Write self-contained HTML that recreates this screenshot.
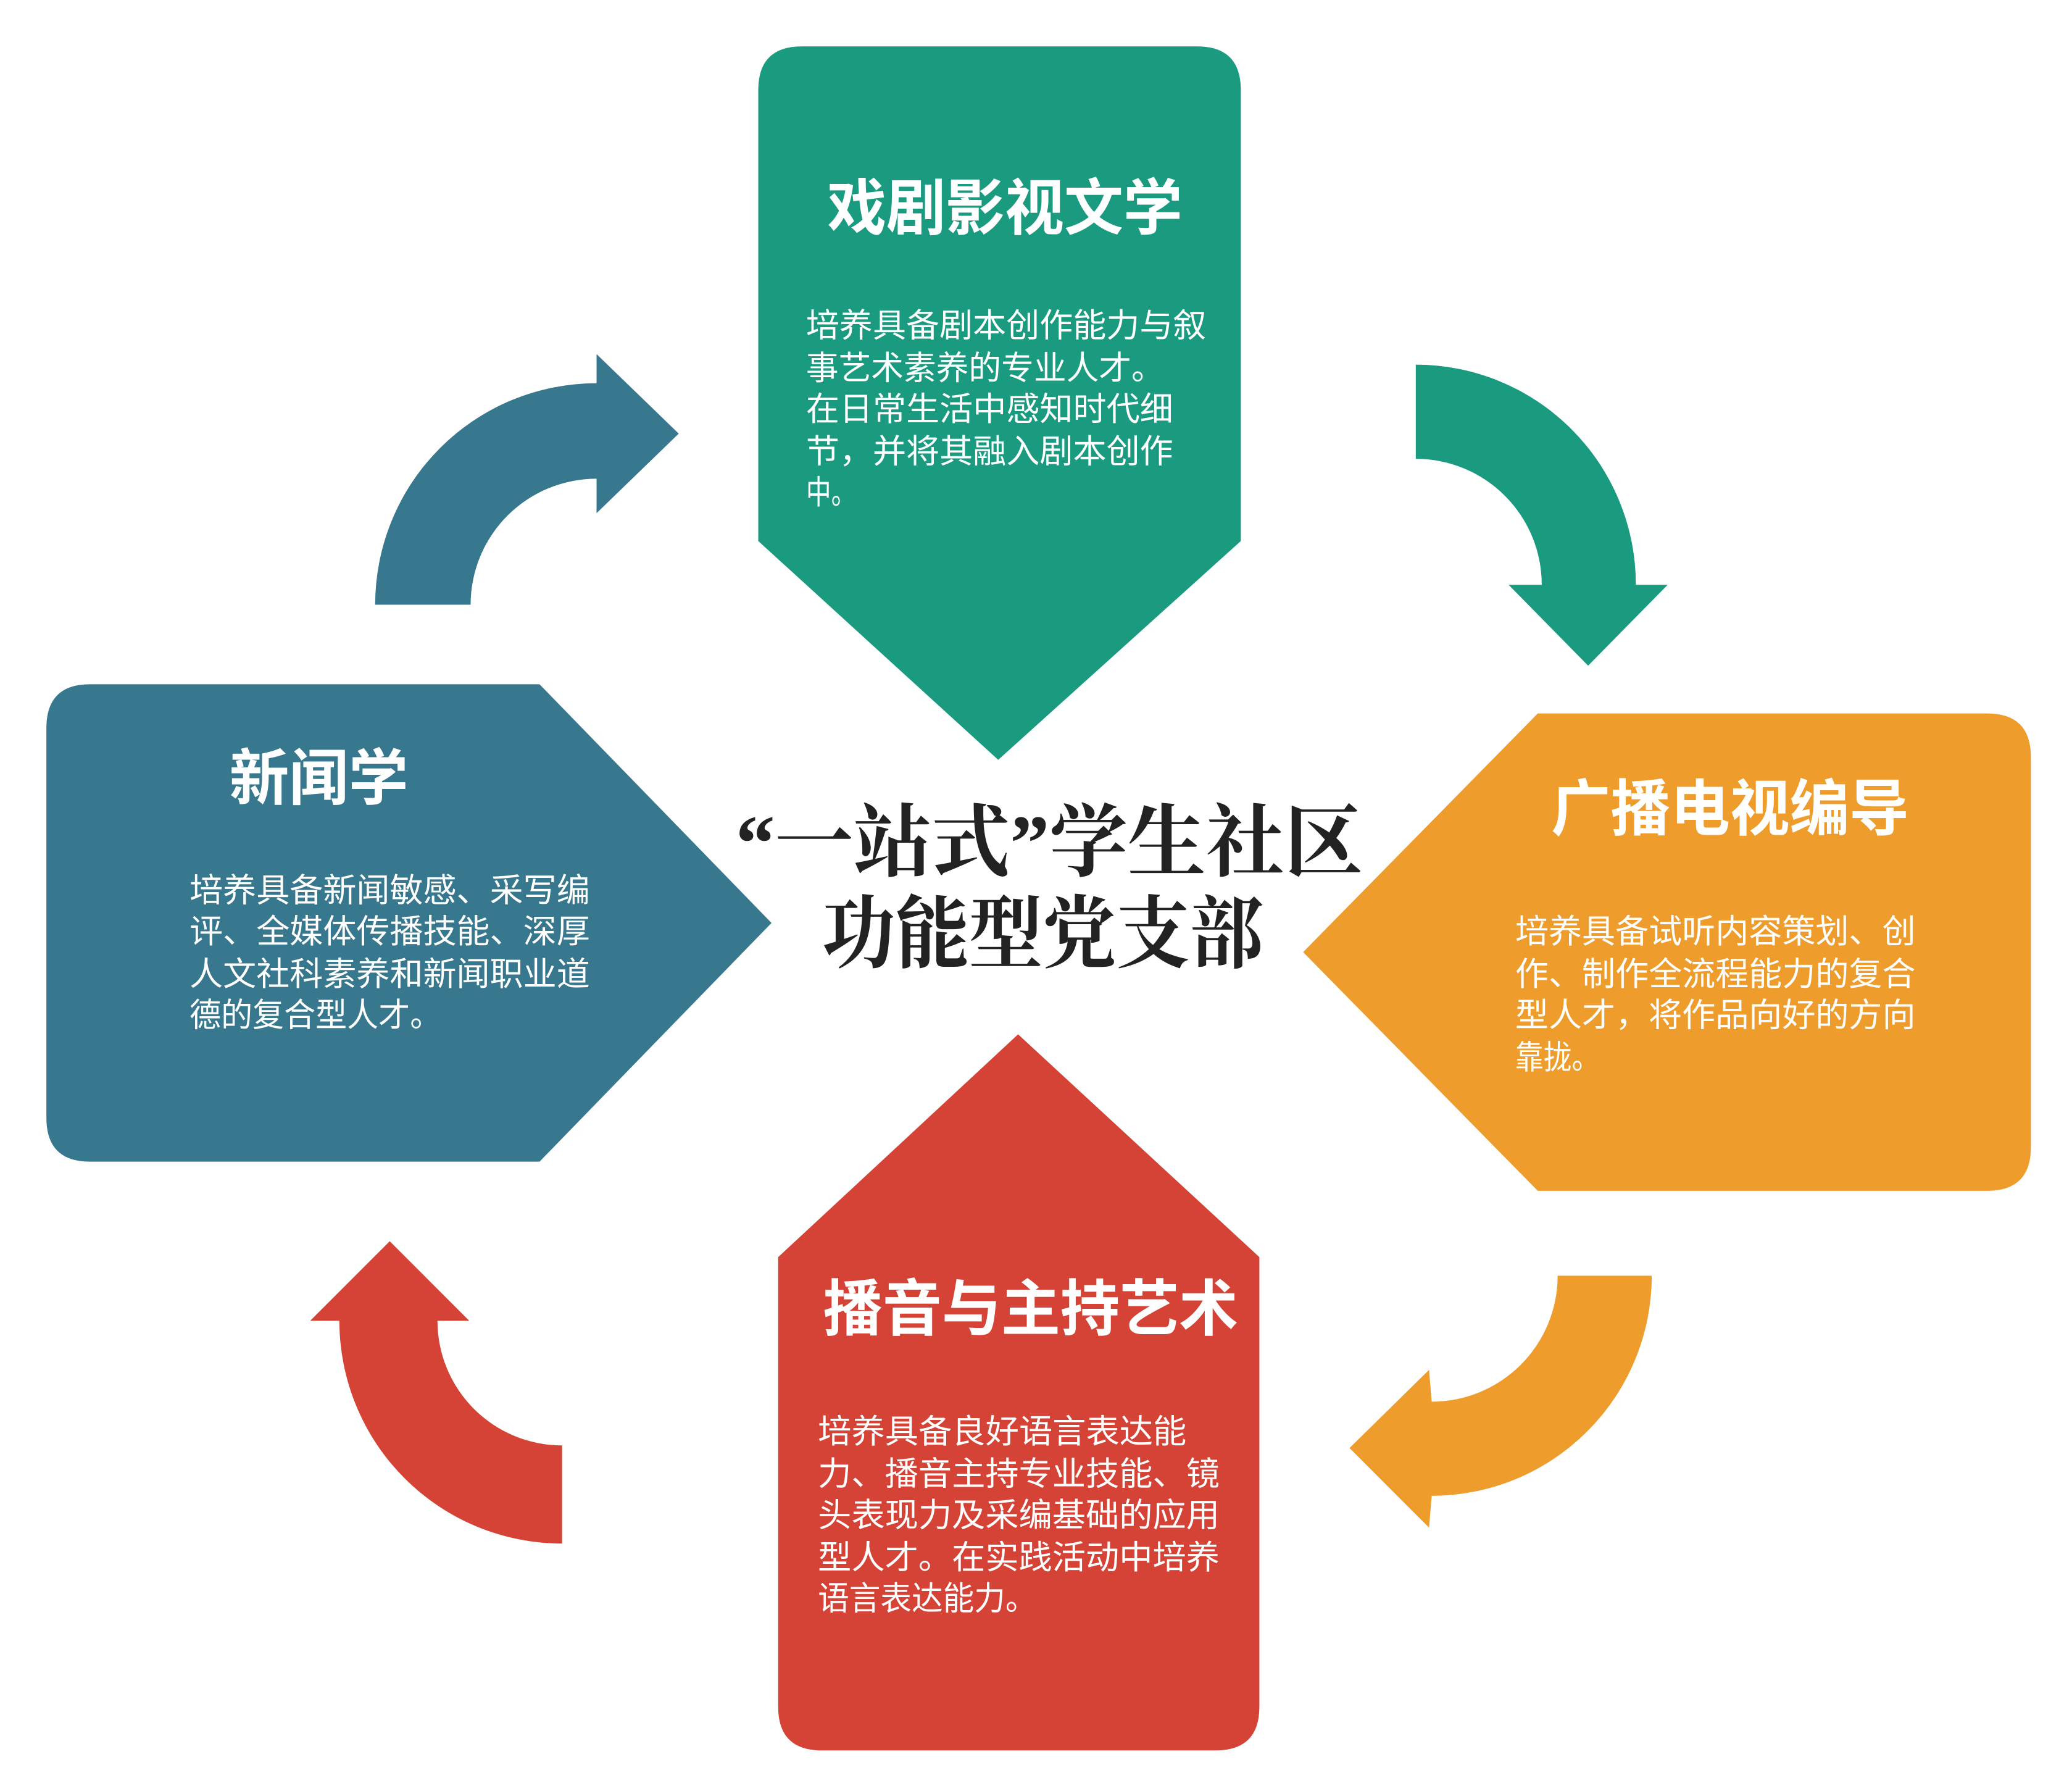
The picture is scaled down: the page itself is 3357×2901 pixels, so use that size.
<!DOCTYPE html>
<html><head><meta charset="utf-8"><style>html,body{margin:0;padding:0;background:#fff}svg{display:block}</style></head><body>
<svg width="3357" height="2901" viewBox="0 0 1563 1350.6" preserveAspectRatio="none" xmlns="http://www.w3.org/2000/svg">
<rect width="1563" height="1351" fill="#fff"/>
<!-- arrows -->
<path d="M283,456 A167,167 0 0 1 450,289 L450,267 L512,327 L450,387 L450,361 A95,95 0 0 0 355,456 Z" fill="#38788f"/>
<path d="M1068,275 A166,166 0 0 1 1234,441 L1258,441 L1198,502 L1138,441 L1163,441 A95,95 0 0 0 1068,346 Z" fill="#1a9b80"/>
<path d="M1246,962 A166,166 0 0 1 1080,1128 L1078,1152 L1018,1092 L1078,1033 L1080,1057 A95,95 0 0 0 1175,962 Z" fill="#ee9d2d"/>
<path d="M424,1164 A168,168 0 0 1 256,996 L234,996 L294,936 L354,996 L330,996 A94,94 0 0 0 424,1090 Z" fill="#d44335"/>
<!-- boxes -->
<path d="M572,408 L572,68 Q572,35 605,35 L903,35 Q936,35 936,68 L936,408 L753,573 Z" fill="#1a9b80"/>
<path d="M407,516 L582,696 L407,876 L68,876 Q35,876 35,843 L35,549 Q35,516 68,516 Z" fill="#38788f"/>
<path d="M1160,538 L1499,538 Q1532,538 1532,571 L1532,865 Q1532,898 1499,898 L1160,898 L983,718 Z" fill="#ee9d2d"/>
<path d="M768,780 L950,948 L950,1287 Q950,1320 917,1320 L620,1320 Q587,1320 587,1287 L587,948 Z" fill="#d44335"/>
<g fill="#fff" font-family="'Liberation Sans','Noto Sans CJK SC',sans-serif">
<text x="624" y="173" font-size="46" font-weight="bold" textLength="268" lengthAdjust="spacingAndGlyphs">戏剧影视文学</text>
<g font-size="25">
<text x="608" y="254" textLength="302" lengthAdjust="spacingAndGlyphs">培养具备剧本创作能力与叙</text>
<text x="608" y="286" textLength="270" lengthAdjust="spacingAndGlyphs">事艺术素养的专业人才。</text>
<text x="608" y="317" textLength="277" lengthAdjust="spacingAndGlyphs">在日常生活中感知时代细</text>
<text x="608" y="349" textLength="277" lengthAdjust="spacingAndGlyphs">节，并将其融入剧本创作</text>
<text x="608" y="380" textLength="38" lengthAdjust="spacingAndGlyphs">中。</text>
</g>
<text x="173" y="603" font-size="46" font-weight="bold" textLength="135" lengthAdjust="spacingAndGlyphs">新闻学</text>
<g font-size="25">
<text x="143" y="680" textLength="302" lengthAdjust="spacingAndGlyphs">培养具备新闻敏感、采写编</text>
<text x="143" y="711" textLength="302" lengthAdjust="spacingAndGlyphs">评、全媒体传播技能、深厚</text>
<text x="143" y="743" textLength="302" lengthAdjust="spacingAndGlyphs">人文社科素养和新闻职业道</text>
<text x="143" y="774" textLength="190" lengthAdjust="spacingAndGlyphs">德的复合型人才。</text>
</g>
<text x="1170" y="626" font-size="46" font-weight="bold" textLength="270" lengthAdjust="spacingAndGlyphs">广播电视编导</text>
<g font-size="25">
<text x="1143" y="711" textLength="302" lengthAdjust="spacingAndGlyphs">培养具备试听内容策划、创</text>
<text x="1143" y="743" textLength="302" lengthAdjust="spacingAndGlyphs">作、制作全流程能力的复合</text>
<text x="1143" y="774" textLength="302" lengthAdjust="spacingAndGlyphs">型人才，将作品向好的方向</text>
<text x="1143" y="806" textLength="64" lengthAdjust="spacingAndGlyphs">靠拢。</text>
</g>
<text x="621" y="1003" font-size="46" font-weight="bold" textLength="313" lengthAdjust="spacingAndGlyphs">播音与主持艺术</text>
<g font-size="25">
<text x="617" y="1088" textLength="278" lengthAdjust="spacingAndGlyphs">培养具备良好语言表达能</text>
<text x="617" y="1120" textLength="303" lengthAdjust="spacingAndGlyphs">力、播音主持专业技能、镜</text>
<text x="617" y="1151" textLength="303" lengthAdjust="spacingAndGlyphs">头表现力及采编基础的应用</text>
<text x="617" y="1183" textLength="303" lengthAdjust="spacingAndGlyphs">型人才。在实践活动中培养</text>
<text x="617" y="1214" textLength="165" lengthAdjust="spacingAndGlyphs">语言表达能力。</text>
</g>
</g>
<g fill="#222" font-family="'Liberation Serif','Noto Serif CJK SC',serif" font-weight="bold" font-size="60">
<text x="555" y="656" textLength="473" lengthAdjust="spacingAndGlyphs">“一站式”学生社区</text>
<text x="620" y="725" textLength="333" lengthAdjust="spacingAndGlyphs">功能型党支部</text>
</g>
</svg>
</body></html>
